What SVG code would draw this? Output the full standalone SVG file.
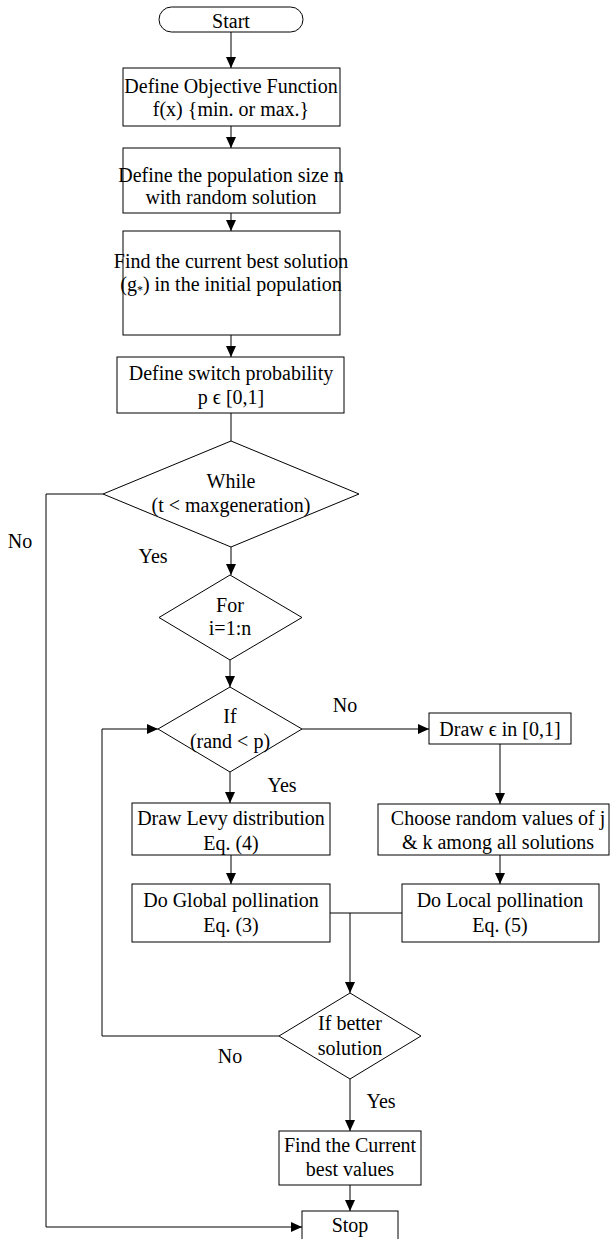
<svg xmlns="http://www.w3.org/2000/svg" width="611" height="1239" viewBox="0 0 611 1239">
<style>
.s{fill:#fff;stroke:#000;stroke-width:1}
.t{font-family:"Liberation Serif","Times New Roman",serif;font-size:20px;fill:#000;text-anchor:middle}
.l{fill:none;stroke:#000;stroke-width:1}
</style>
<defs>
<marker id="a" markerUnits="userSpaceOnUse" markerWidth="13" markerHeight="13" viewBox="0 0 13 13" refX="12" refY="6.5" orient="auto">
<path d="M1,1.5 L12,6.5 L1,11.5 Z" fill="#000"/>
</marker>
</defs>
<rect width="611" height="1239" fill="#fff"/>
<g id="connectors">
<line class="l" x1="231" y1="32" x2="231" y2="68" marker-end="url(#a)"/>
<line class="l" x1="231" y1="126" x2="231" y2="148" marker-end="url(#a)"/>
<line class="l" x1="231" y1="213" x2="231" y2="231" marker-end="url(#a)"/>
<line class="l" x1="231" y1="335" x2="231" y2="357" marker-end="url(#a)"/>
<line class="l" x1="231" y1="413" x2="231" y2="441"/>
<line class="l" x1="231" y1="547" x2="231" y2="575" marker-end="url(#a)"/>
<line class="l" x1="230" y1="660" x2="230" y2="687" marker-end="url(#a)"/>
<line class="l" x1="302" y1="729" x2="429" y2="729" marker-end="url(#a)"/>
<line class="l" x1="230" y1="772" x2="230" y2="803" marker-end="url(#a)"/>
<line class="l" x1="500" y1="744" x2="500" y2="804" marker-end="url(#a)"/>
<line class="l" x1="231" y1="855" x2="231" y2="884" marker-end="url(#a)"/>
<line class="l" x1="500" y1="855" x2="500" y2="884" marker-end="url(#a)"/>
<line class="l" x1="330" y1="913" x2="402" y2="913"/>
<line class="l" x1="350" y1="913" x2="350" y2="993" marker-end="url(#a)"/>
<polyline class="l" points="279,1036 102,1036 102,729 158,729" marker-end="url(#a)"/>
<line class="l" x1="350" y1="1079" x2="350" y2="1131" marker-end="url(#a)"/>
<line class="l" x1="350" y1="1185" x2="350" y2="1211" marker-end="url(#a)"/>
<polyline class="l" points="103,494 46,494 46,1227 302,1227" marker-end="url(#a)"/>
<text class="t" x="20" y="548">No</text>
<text class="t" x="153" y="563">Yes</text>
<text class="t" x="345" y="712">No</text>
<text class="t" x="282" y="792">Yes</text>
<text class="t" x="230" y="1063">No</text>
<text class="t" x="381" y="1108">Yes</text>
</g>
<g id="start">
<rect class="s" x="159" y="7" width="144" height="25" rx="12.5"/>
<text class="t" x="231" y="28">Start</text>
</g>
<g id="objective">
<rect class="s" x="123" y="68" width="217" height="58"/>
<text class="t" x="231" y="93">Define Objective Function</text>
<text class="t" x="231" y="116">f(x) {min. or max.}</text>
</g>
<g id="population">
<rect class="s" x="123" y="148" width="217" height="65"/>
<text class="t" x="231" y="182">Define the population size n</text>
<text class="t" x="231" y="204">with random solution</text>
</g>
<g id="bestsolution">
<rect class="s" x="123" y="231" width="217" height="104"/>
<text class="t" x="231" y="268">Find the current best solution</text>
<text class="t" x="231" y="291">(g<tspan font-size="12" dy="3">*</tspan><tspan dy="-3">) in the initial population</tspan></text>
</g>
<g id="switch">
<rect class="s" x="117" y="357" width="227" height="56"/>
<text class="t" x="231" y="380">Define switch probability</text>
<text class="t" x="231" y="404">p ϵ [0,1]</text>
</g>
<g id="while">
<polygon class="s" points="231,441 359,494 231,547 103,494"/>
<text class="t" x="231" y="488">While</text>
<text class="t" x="231" y="512">(t &lt; maxgeneration)</text>
</g>
<g id="for">
<polygon class="s" points="230,575 302,617.5 230,660 159,617.5"/>
<text class="t" x="230" y="612">For</text>
<text class="t" x="230" y="635">i=1:n</text>
</g>
<g id="if">
<polygon class="s" points="230,687 302,729 230,772 158,729"/>
<text class="t" x="230" y="723">If</text>
<text class="t" x="230" y="748">(rand &lt; p)</text>
</g>
<g id="drawepsilon">
<rect class="s" x="429" y="713" width="142" height="31"/>
<text class="t" x="500" y="736">Draw ϵ in [0,1]</text>
</g>
<g id="levy">
<rect class="s" x="132" y="803" width="198" height="52"/>
<text class="t" x="231" y="825">Draw Levy distribution</text>
<text class="t" x="231" y="850">Eq. (4)</text>
</g>
<g id="choose">
<rect class="s" x="378" y="804" width="231" height="51"/>
<text class="t" x="498" y="825">Choose random values of j</text>
<text class="t" x="498" y="849">&amp; k among all solutions</text>
</g>
<g id="global">
<rect class="s" x="132" y="884" width="198" height="58"/>
<text class="t" x="231" y="907">Do Global pollination</text>
<text class="t" x="231" y="932">Eq. (3)</text>
</g>
<g id="local">
<rect class="s" x="402" y="884" width="197" height="58"/>
<text class="t" x="500" y="907">Do Local pollination</text>
<text class="t" x="500" y="932">Eq. (5)</text>
</g>
<g id="better">
<polygon class="s" points="350,993 421,1036 350,1079 279,1036"/>
<text class="t" x="350" y="1030">If better</text>
<text class="t" x="350" y="1055">solution</text>
</g>
<g id="current">
<rect class="s" x="279" y="1131" width="142" height="54"/>
<text class="t" x="350" y="1152">Find the Current</text>
<text class="t" x="350" y="1176">best values</text>
</g>
<g id="stop">
<rect class="s" x="302" y="1211" width="96" height="40"/>
<text class="t" x="350" y="1232">Stop</text>
</g>
</svg>
